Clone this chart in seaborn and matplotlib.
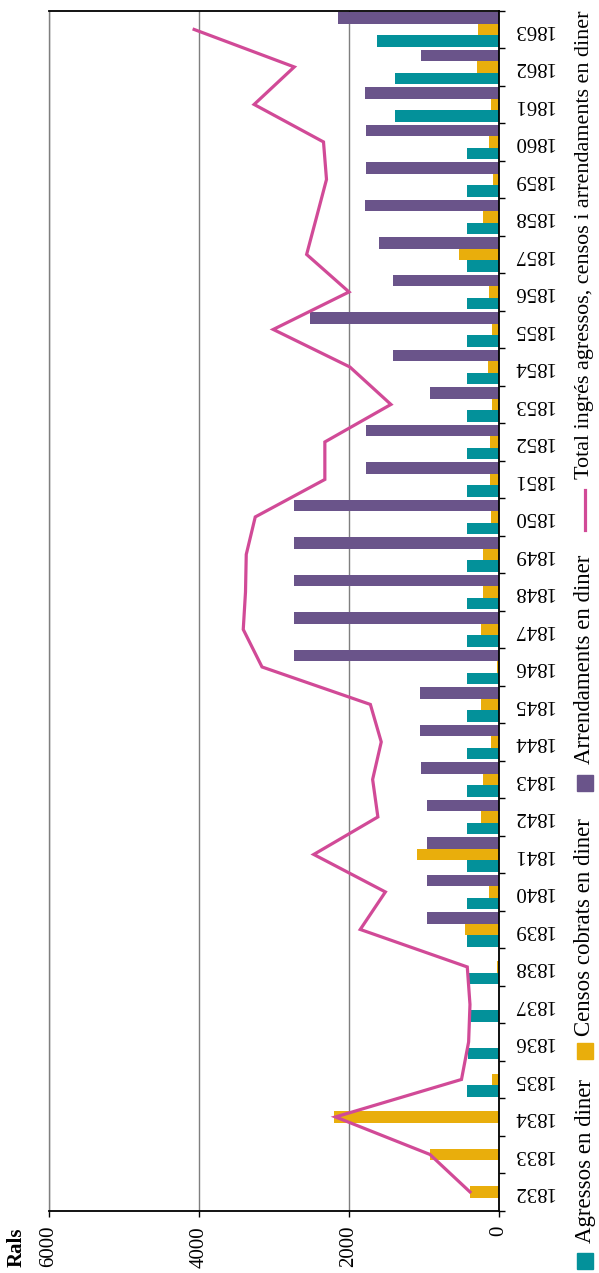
import numpy as np
import pandas as pd
import matplotlib
matplotlib.use("Agg")
import matplotlib.pyplot as plt
import seaborn as sns
from matplotlib.patches import Rectangle
from matplotlib.lines import Line2D

# data (rals)
years = list(range(1832, 1864))
agressos = [0, 0, 0, 427, 415, 374, 400, 427, 427, 427, 427, 427, 427, 427, 427, 427,
            427, 427, 427, 427, 427, 427, 427, 427, 427, 427, 427, 427, 427, 1388, 1388, 1628]
censos = [387, 921, 2202, 93, 0, 0, 27, 454, 133, 1094, 240, 214, 107, 240, 27, 240,
          214, 214, 107, 120, 120, 93, 147, 93, 133, 534, 214, 76, 133, 107, 294, 285]
arrendaments = [0, 0, 0, 0, 0, 0, 0, 961, 961, 961, 961, 1041, 1054, 1054, 2736, 2736,
                2736, 2736, 2736, 1775, 1775, 921, 1415, 2523, 1415, 1602, 1788, 1775, 1775, 1788, 1041, 2149]
total = [387, 921, 2180, 500, 405, 387, 423, 1850, 1515, 2470, 1615, 1685, 1570, 1715, 3160, 3410,
         3380, 3370, 3250, 2322, 2322, 1441, 1989, 3010, 2000, 2565, 2432, 2300, 2340, 3265, 2730, 4065]

series_names = ["Agressos en diner", "Censos cobrats en diner", "Arrendaments en diner"]
total_name = "Total ingrés agressos, censos i arrendaments en diner"
colors = ["#03919a", "#e9ae0c", "#6a548a"]
line_color = "#d14a97"

plt.rcParams['font.family'] = ['Liberation Serif', 'DejaVu Serif']

df = pd.DataFrame({
    "year": [str(y) for y in years] * 3,
    "series": [s for s in series_names for _ in years],
    "value": agressos + censos + arrendaments,
})

fig = plt.figure(figsize=(5.99, 12.73), dpi=100)
ax = fig.add_axes([49 / 599, 1 - 1210.7 / 1273, 450 / 599, 1200 / 1273])

sns.barplot(data=df, x="value", y="year", hue="series", order=[str(y) for y in years],
            hue_order=series_names, palette=colors, orient="h", width=0.93,
            errorbar=None, legend=False, saturation=1, ax=ax, zorder=2)

ax.plot(total, np.arange(len(years)), color=line_color, lw=2.3,
        solid_joinstyle="miter", zorder=3)

ax.set_xlim(6000, 0)
ax.set_ylim(-0.5, len(years) - 0.5)
ax.set_xlabel("")
ax.set_ylabel("")

# value axis
ax.set_xticks([0, 2000, 4000, 6000])
ax.set_xticklabels(["0", "2000", "4000", "6000"], rotation=90, va="top")
ax.tick_params(axis="x", direction="out", length=4, width=1, pad=7, labelsize=15)
ax.grid(axis="x", color="#7f7f7f", lw=1)
ax.set_axisbelow(True)

# year axis on the right
ax.yaxis.tick_right()
ax.set_yticks(np.arange(len(years)))
ax.set_yticklabels([str(y) for y in years])
ax.set_yticks(np.arange(-0.5, len(years), 1), minor=True)
ax.tick_params(axis="y", which="major", length=0, pad=10, labelsize=15, labelrotation=180)
ax.tick_params(axis="y", which="minor", length=4, width=1, direction="out", right=True, left=False)
for lab in ax.get_yticklabels():
    lab.set_va("center")

for side in ["top", "right", "bottom"]:
    ax.spines[side].set_color("black")
    ax.spines[side].set_linewidth(1.3)
ax.spines["left"].set_color("#7f7f7f")
ax.spines["left"].set_linewidth(1)

H = 1273.0
W = 599.0
fig.text(17 / W, 1 - 1247 / H, "Rals", rotation=90, fontsize=15, fontweight="bold",
         ha="center", va="center")

# legend built by hand, rotated like the chart
sq = 16
for c, cy in zip(colors, [1261, 1051, 783]):
    fig.add_artist(Rectangle(((585 - sq / 2) / W, 1 - (cy + sq / 2) / H), sq / W, sq / H,
                             transform=fig.transFigure, color=c))
fig.add_artist(Line2D([585 / W, 585 / W], [1 - 530 / H, 1 - 490 / H],
                      transform=fig.transFigure, color=line_color, lw=2.3))
for label, by, fs in zip(series_names + [total_name], [1243, 1036, 764, 479],
                         [16.5, 16.5, 16.5, 15.9]):
    fig.text(585 / W, 1 - by / H, label, rotation=90, fontsize=fs,
             ha="center", va="bottom")

fig.savefig("out.png", dpi=100)
